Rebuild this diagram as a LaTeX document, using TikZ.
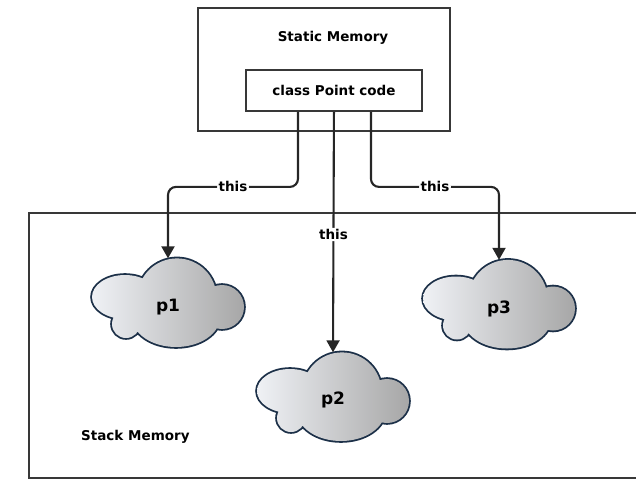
\documentclass[tikz,border=0pt]{standalone}
\usepackage{fontspec}
\setmainfont{DejaVu Sans}
\usetikzlibrary{arrows.meta}
\definecolor{cloudedge}{RGB}{28,48,72}
\definecolor{cloudlight}{RGB}{240,242,246}
\definecolor{clouddark}{RGB}{166,166,166}
\newcommand\cloudparts{(9,5) circle[radius=39.6] (54,-4) circle[radius=22]
  (-43,6) ellipse[x radius=33,y radius=22] (-42,-21) circle[radius=14]
  (8,-14) ellipse[x radius=44,y radius=30]}
\newcommand\drawcloudat[1]{%
  \begin{scope}[shift={(#1)},x=1pt,y=1pt]
    \draw[cloudedge,line width=3.6pt] \cloudparts;
    \begin{scope}
      \clip \cloudparts;
      \shade[left color=cloudlight,right color=clouddark] (-78,-47) rectangle (78,47);
    \end{scope}
  \end{scope}}
\begin{document}
\begin{tikzpicture}[x=1pt,y=-1pt,
  boxline/.style={draw=black!78,line width=1.9pt},
  txt/.style={font=\bfseries\fontsize{13.5}{15}\selectfont,inner sep=1pt},
  lbl/.style={txt,fill=white,inner sep=1.5pt},
  conn/.style={draw=black!85,line width=2.1pt,rounded corners=8pt,
    -{Triangle[width=13pt,length=12pt]}},
  cloudbox/.style={rectangle,draw=none,inner sep=0pt,minimum width=152pt,minimum height=89pt},
  ptxt/.style={font=\bfseries\fontsize{17}{19}\selectfont,inner sep=0pt}]
\useasboundingbox (0,0) rectangle (636,479);
\begin{scope}
\clip (0,0) rectangle (636,479);
\node[boxline,rectangle,minimum width=612pt,minimum height=265pt,anchor=north west] (stack) at (28,212) {};
\end{scope}
\node[boxline,rectangle,minimum width=252pt,minimum height=123pt,anchor=north west] (static) at (197,7) {};
\node[txt] (stitle) at (333,38) {Static Memory};
\node[boxline,rectangle,minimum width=176pt,minimum height=41pt,anchor=north west] (code) at (245,69) {};
\node[txt] (codetxt) at (code.center) {class Point code};
\node[txt,anchor=west] (sttitle) at (80,437) {Stack Memory};
\node[cloudbox] (p1) at (168,303) {};
\node[cloudbox] (p2) at (333,397) {};
\node[cloudbox] (p3) at (499,304.5) {};
\drawcloudat{p1.center}
\drawcloudat{p2.center}
\drawcloudat{p3.center}
\node[ptxt] (p1t) at ([yshift=-4pt]p1.center) {p1};
\node[ptxt] (p2t) at ([yshift=-3pt]p2.center) {p2};
\node[ptxt] (p3t) at ([yshift=-4pt]p3.center) {p3};
\coordinate (s1) at ([xshift=-36pt]code.south);
\coordinate (s3) at ([xshift=37pt]code.south);
\draw[conn] (s1) -- ++(0,75) -| node[lbl,pos=0.25] {this} (p1.north);
\draw[conn] (s3) -- ++(0,75) -| node[lbl,pos=0.25] {this} (p3.north);
\draw[conn] (code.south) -- node[lbl,pos=0.51] {this} (p2.north);
\end{tikzpicture}
\end{document}
